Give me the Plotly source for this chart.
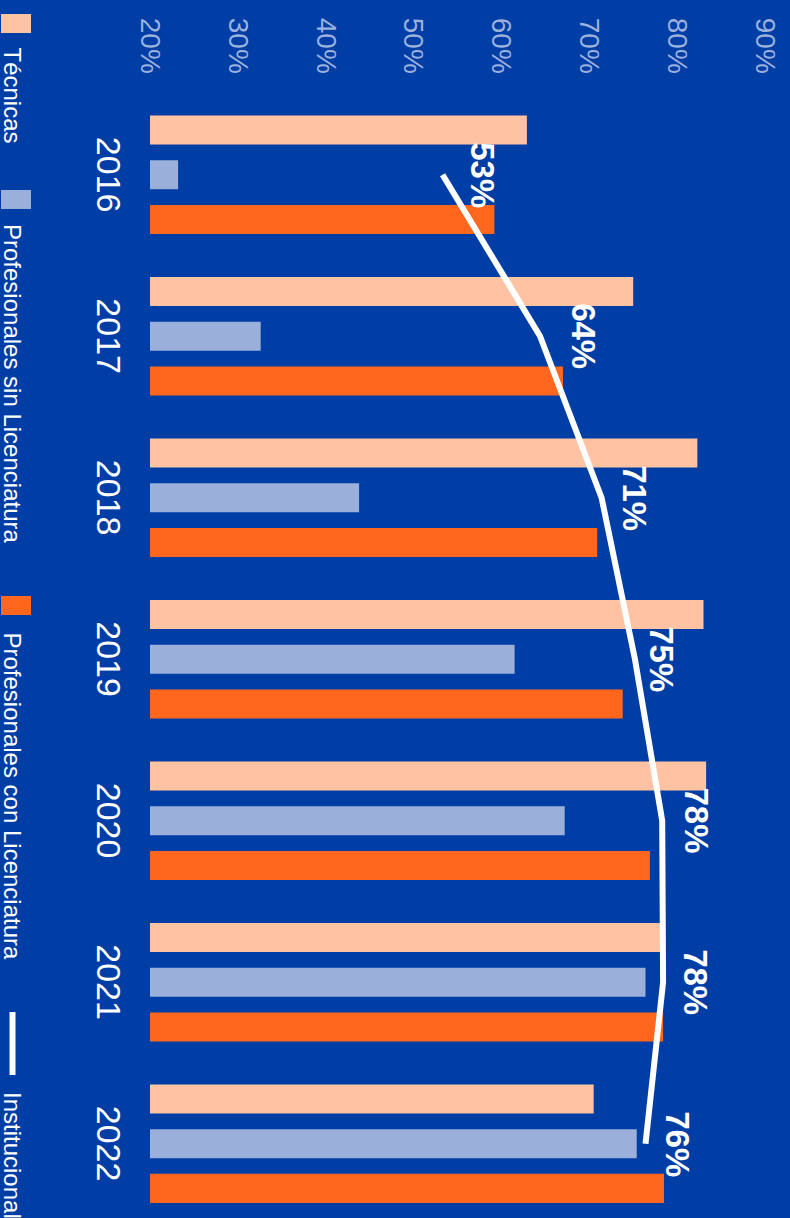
import plotly.graph_objects as go

# ---------------- data ----------------
years = ["2016", "2017", "2018", "2019", "2020", "2021", "2022"]
tecnicas = [62.9, 75.0, 82.3, 83.0, 83.3, 78.1, 70.5]
sin_licenciatura = [23.2, 32.6, 43.8, 61.5, 67.2, 76.4, 75.4]
con_licenciatura = [59.2, 67.0, 70.9, 73.8, 76.9, 78.4, 78.5]
institucional = [53.3, 64.4, 71.4, 75.2, 78.3, 78.4, 76.4]
series_names = ["Técnicas", "Profesionales sin Licenciatura",
                "Profesionales con Licenciatura", "Institucional"]
x_tick_values = [20, 30, 40, 50, 60, 70, 80, 90]
x_tick_labels = ["20%", "30%", "40%", "50%", "60%", "70%", "80%", "90%"]

# ---------------- style ----------------
W, H = 790, 1218
ML, MR, MT, MB = 150, 25, 94, 0
BG = "#003DA5"
C_TEC = "#FFC2A3"
C_SIN = "#9AB0DA"
C_CON = "#FF671F"
FONT = "Liberation Sans, Arial, sans-serif"
LABEL_SHIFTS = [40, 44, 33, 27, 34, 33, 32]

PW = W - ML - MR
PH = H - MT - MB


def px(xp):
    return (xp - ML) / PW


def py(yp):
    return (H - MB - yp) / PH


fig = go.Figure()
for name, vals, col in [(series_names[0], tecnicas, C_TEC),
                        (series_names[1], sin_licenciatura, C_SIN),
                        (series_names[2], con_licenciatura, C_CON)]:
    fig.add_trace(go.Bar(x=vals, y=years, orientation="h", name=name,
                         marker=dict(color=col, line=dict(width=0)),
                         showlegend=False))

fig.add_trace(go.Scatter(x=institucional, y=years, mode="lines",
                         name=series_names[3],
                         line=dict(color="white", width=6),
                         showlegend=False))

annotations = []
for i, v in enumerate(institucional):
    annotations.append(dict(x=v, y=i, xref="x", yref="y",
                            text=f"<b>{round(v)}%</b>", textangle=90,
                            showarrow=False, xshift=LABEL_SHIFTS[i],
                            font=dict(family=FONT, size=33, color="white")))

# custom rotated legend
shapes = []
legend_items = [
    (series_names[0], C_TEC, 14, 33, 45),
    (series_names[1], C_SIN, 190, 209, 222),
    (series_names[2], C_CON, 596, 615, 630),
]
for name, col, y0, y1, ty in legend_items:
    shapes.append(dict(type="rect", xref="paper", yref="paper",
                       x0=px(1), x1=px(31), y0=py(y1), y1=py(y0),
                       fillcolor=col, line=dict(width=0), layer="above"))
    annotations.append(dict(x=px(12.5), y=py(ty), xref="paper", yref="paper",
                            text=name, textangle=90, showarrow=False,
                            xanchor="center", yanchor="top",
                            font=dict(family=FONT, size=24, color="white")))
shapes.append(dict(type="line", xref="paper", yref="paper",
                   x0=px(12.5), x1=px(12.5), y0=py(1075), y1=py(1012),
                   line=dict(color="white", width=6)))
annotations.append(dict(x=px(12.5), y=py(1090), xref="paper", yref="paper",
                        text=series_names[3], textangle=90, showarrow=False,
                        xanchor="center", yanchor="top",
                        font=dict(family=FONT, size=24, color="white")))

fig.update_layout(
    width=W, height=H,
    margin=dict(l=ML, r=MR, t=MT, b=MB, pad=0),
    paper_bgcolor=BG, plot_bgcolor=BG,
    barmode="group", bargap=0.17, bargroupgap=0.35,
    showlegend=False,
    annotations=annotations, shapes=shapes,
    font=dict(family=FONT),
)
fig.update_xaxes(range=[20, 90], side="top", tickvals=x_tick_values,
                 ticktext=x_tick_labels, tickangle=90, showgrid=False,
                 zeroline=False, showline=False, ticks="",
                 ticklabelstandoff=15,
                 tickfont=dict(family=FONT, size=28, color="#9DB1DD"))
fig.update_yaxes(type="category", range=[6.46, -0.5], showgrid=False,
                 zeroline=False, showline=False, ticks="", tickangle=90,
                 ticklabelstandoff=18, ticklabelshift=-5,
                 tickfont=dict(family=FONT, size=34, color="white"))

fig.write_html("out.html",
               config={"displayModeBar": False},
               post_script="document.body.style.margin='0';"
                           "document.body.style.overflow='hidden';")
